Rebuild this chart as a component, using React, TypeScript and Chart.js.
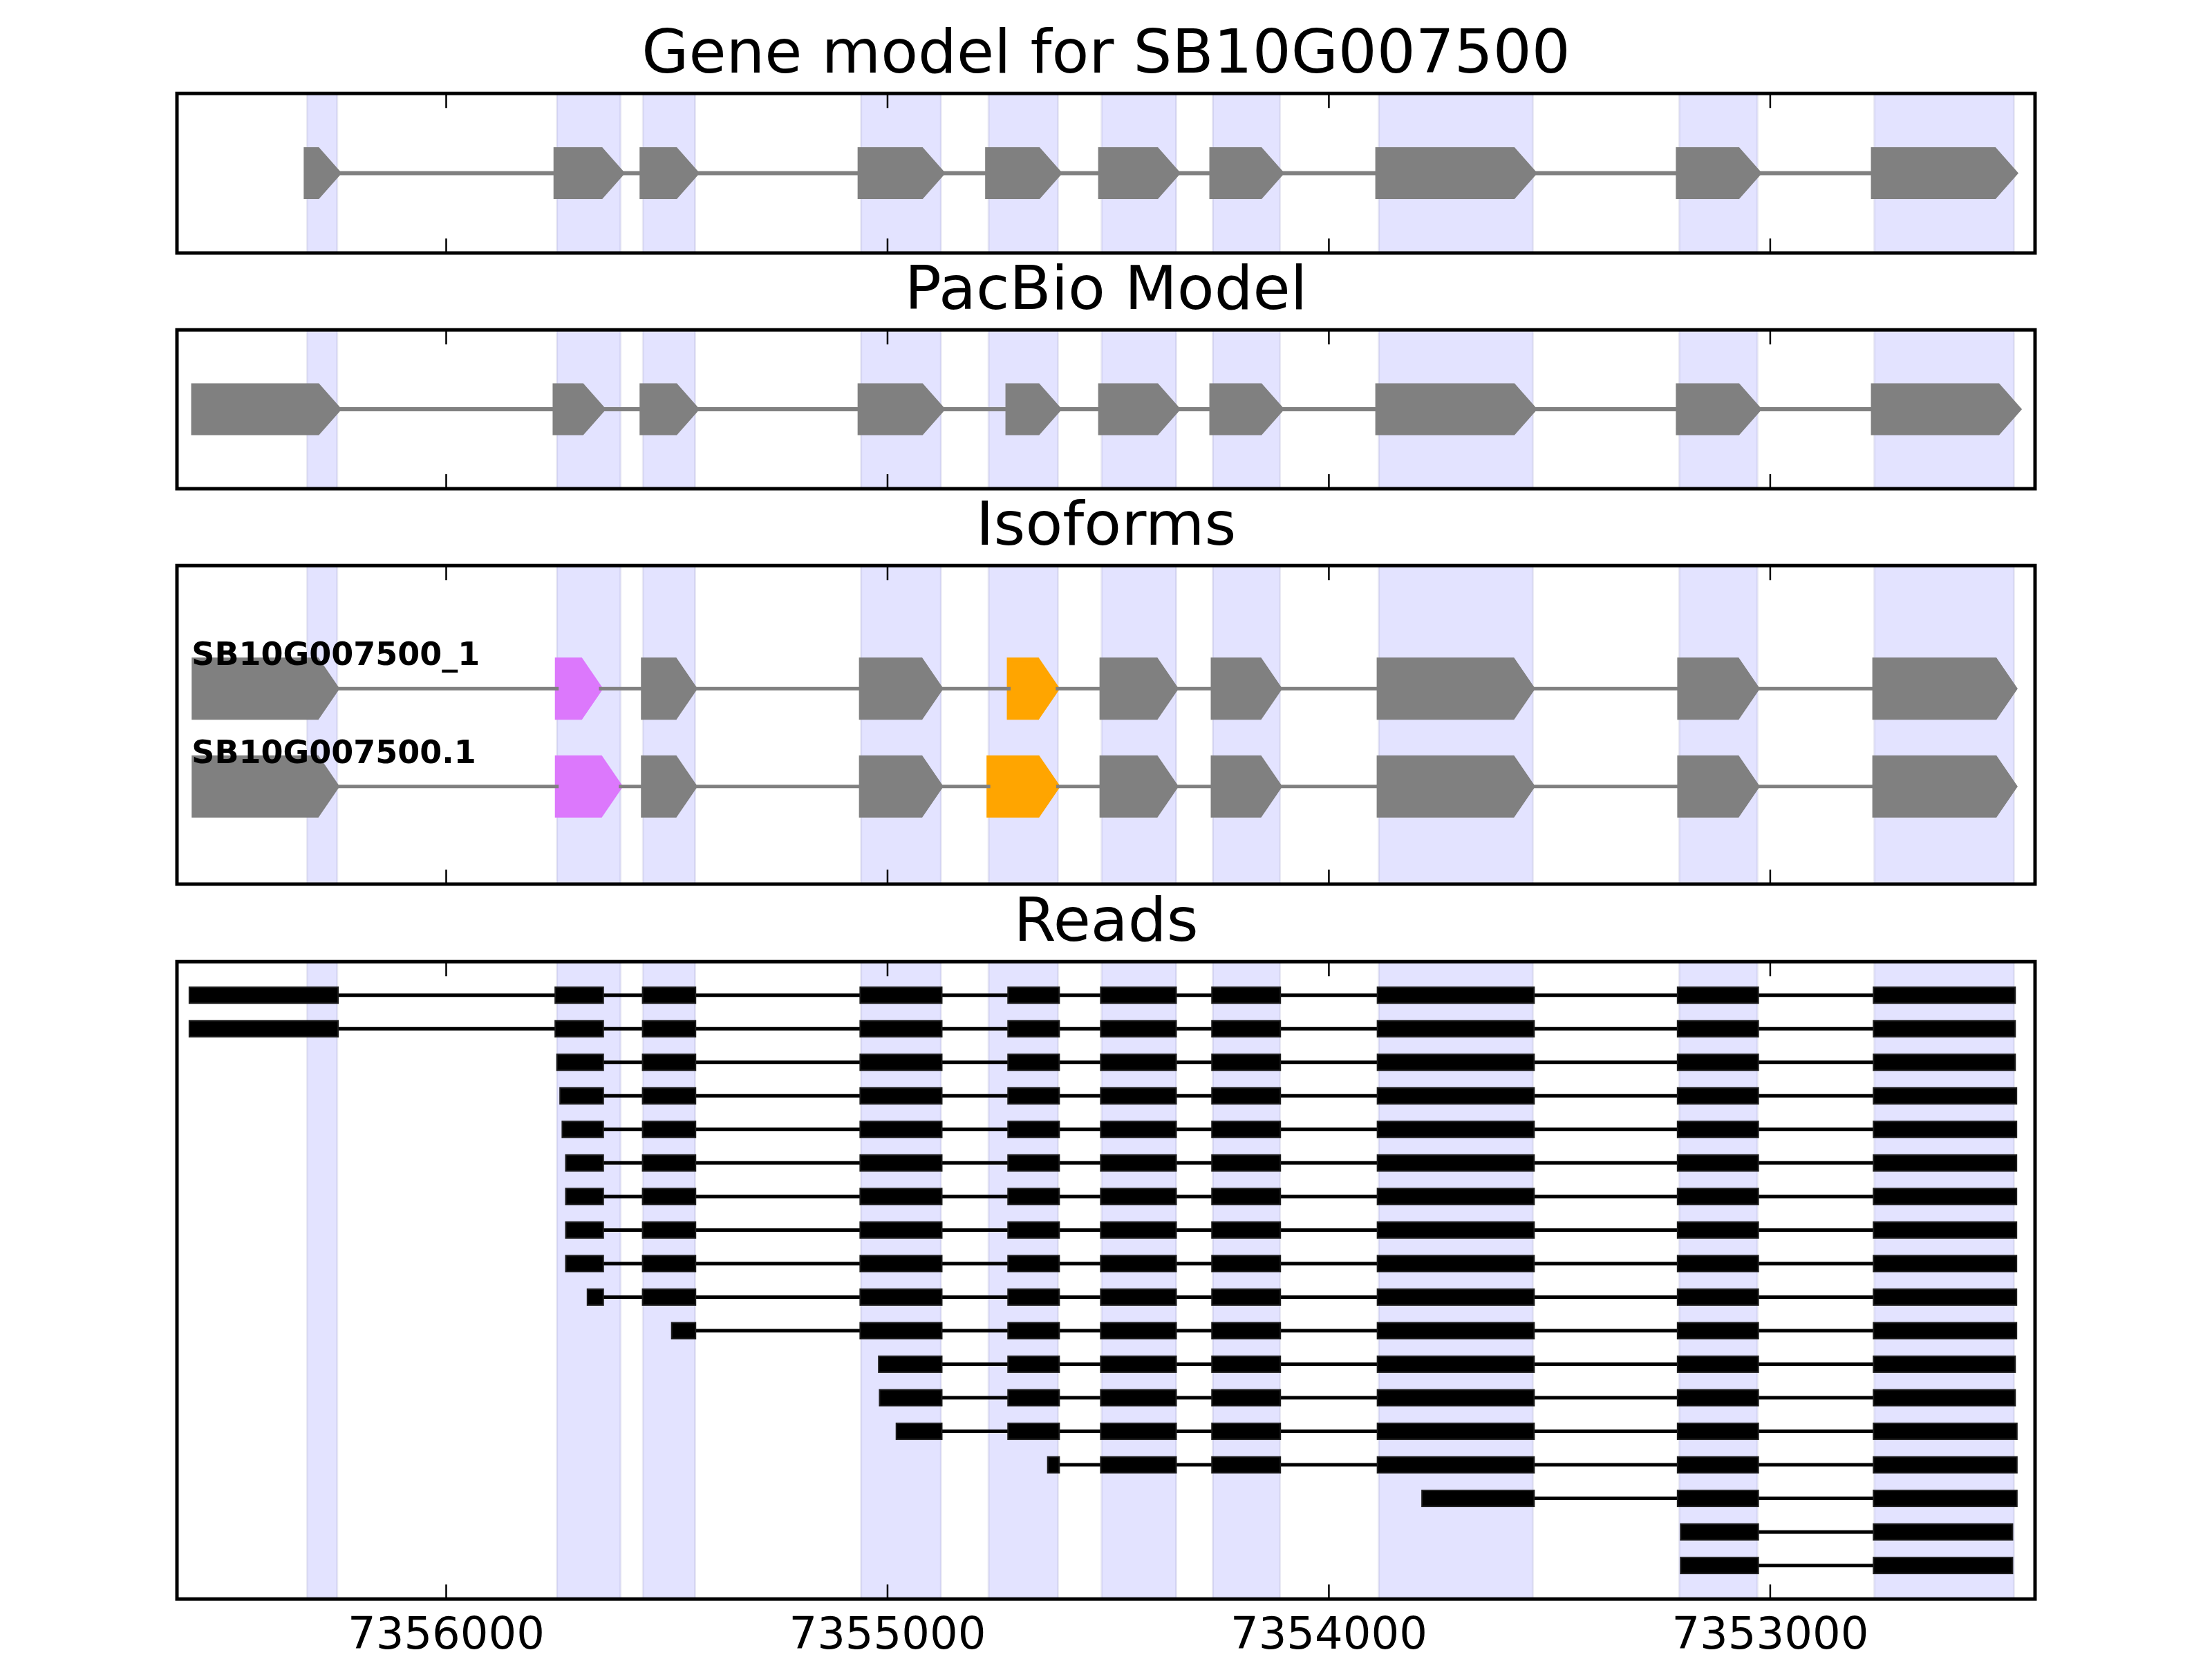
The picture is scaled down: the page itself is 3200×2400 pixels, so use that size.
import React, { useEffect, useRef } from 'react';
import { Chart, registerables } from 'chart.js';

Chart.register(...registerables);

// ---------------- data ----------------
const X_MIN = 7352400;
const X_MAX = 7356610;
const X_TICKS = [7356000, 7355000, 7354000, 7353000];

const PANEL_TITLES = ['Gene model for SB10G007500', 'PacBio Model', 'Isoforms', 'Reads'];

// exons as [left (higher coordinate), right (lower coordinate)]
const GENE_EXONS: number[][] = [
  [7356315, 7356247],
  [7355749, 7355605],
  [7355554, 7355436],
  [7355060, 7354879],
  [7354771, 7354614],
  [7354515, 7354346],
  [7354263, 7354111],
  [7353887, 7353538],
  [7353206, 7353029],
  [7352764, 7352448],
];

const PACBIO_EXONS: number[][] = [
  [7356570, 7356247],
  [7355751, 7355648],
  [7355554, 7355436],
  [7355060, 7354879],
  [7354725, 7354615],
  [7354515, 7354346],
  [7354263, 7354111],
  [7353887, 7353538],
  [7353206, 7353029],
  [7352764, 7352440],
];

const ISOFORM_NAMES = ['SB10G007500_1', 'SB10G007500.1'];

const ISOFORM_1_EXONS: number[][] = [
  [7356572, 7356247],
  [7355749, 7355650],
  [7355554, 7355436],
  [7355060, 7354879],
  [7354725, 7354615],
  [7354515, 7354346],
  [7354263, 7354111],
  [7353887, 7353538],
  [7353206, 7353029],
  [7352764, 7352445],
];

const ISOFORM_2_EXONS: number[][] = [
  [7356572, 7356247],
  [7355749, 7355605],
  [7355554, 7355436],
  [7355060, 7354879],
  [7354771, 7354614],
  [7354515, 7354346],
  [7354263, 7354111],
  [7353887, 7353538],
  [7353206, 7353029],
  [7352764, 7352445],
];

const ISOFORM_EXONS = [ISOFORM_1_EXONS, ISOFORM_2_EXONS];

const READS: number[][][] = [
  [[7356582, 7356245], [7355753, 7355644], [7355555, 7355435], [7355062, 7354877], [7354727, 7354611], [7354517, 7354346], [7354265, 7354110], [7353890, 7353535], [7353210, 7353027], [7352766, 7352445]],
  [[7356582, 7356245], [7355753, 7355644], [7355555, 7355435], [7355062, 7354877], [7354727, 7354611], [7354517, 7354346], [7354265, 7354110], [7353890, 7353535], [7353210, 7353027], [7352766, 7352445]],
  [[7355749, 7355644], [7355555, 7355435], [7355062, 7354877], [7354727, 7354611], [7354517, 7354346], [7354265, 7354110], [7353890, 7353535], [7353210, 7353027], [7352766, 7352445]],
  [[7355742, 7355644], [7355555, 7355435], [7355062, 7354877], [7354727, 7354611], [7354517, 7354346], [7354265, 7354110], [7353890, 7353535], [7353210, 7353027], [7352766, 7352442]],
  [[7355737, 7355644], [7355555, 7355435], [7355062, 7354877], [7354727, 7354611], [7354517, 7354346], [7354265, 7354110], [7353890, 7353535], [7353210, 7353027], [7352766, 7352442]],
  [[7355729, 7355644], [7355555, 7355435], [7355062, 7354877], [7354727, 7354611], [7354517, 7354346], [7354265, 7354110], [7353890, 7353535], [7353210, 7353027], [7352766, 7352442]],
  [[7355729, 7355644], [7355555, 7355435], [7355062, 7354877], [7354727, 7354611], [7354517, 7354346], [7354265, 7354110], [7353890, 7353535], [7353210, 7353027], [7352766, 7352442]],
  [[7355729, 7355644], [7355555, 7355435], [7355062, 7354877], [7354727, 7354611], [7354517, 7354346], [7354265, 7354110], [7353890, 7353535], [7353210, 7353027], [7352766, 7352442]],
  [[7355729, 7355644], [7355555, 7355435], [7355062, 7354877], [7354727, 7354611], [7354517, 7354346], [7354265, 7354110], [7353890, 7353535], [7353210, 7353027], [7352766, 7352442]],
  [[7355680, 7355644], [7355555, 7355435], [7355062, 7354877], [7354727, 7354611], [7354517, 7354346], [7354265, 7354110], [7353890, 7353535], [7353210, 7353027], [7352766, 7352442]],
  [[7355489, 7355435], [7355062, 7354877], [7354727, 7354611], [7354517, 7354346], [7354265, 7354110], [7353890, 7353535], [7353210, 7353027], [7352766, 7352442]],
  [[7355020, 7354877], [7354727, 7354611], [7354517, 7354346], [7354265, 7354110], [7353890, 7353535], [7353210, 7353027], [7352766, 7352445]],
  [[7355018, 7354877], [7354727, 7354611], [7354517, 7354346], [7354265, 7354110], [7353890, 7353535], [7353210, 7353027], [7352766, 7352445]],
  [[7354980, 7354877], [7354727, 7354611], [7354517, 7354346], [7354265, 7354110], [7353890, 7353535], [7353210, 7353027], [7352766, 7352441]],
  [[7354637, 7354611], [7354517, 7354346], [7354265, 7354110], [7353890, 7353535], [7353210, 7353027], [7352766, 7352441]],
  [[7353789, 7353535], [7353210, 7353027], [7352766, 7352441]],
  [[7353203, 7353027], [7352766, 7352451]],
  [[7353203, 7353027], [7352766, 7352451]],
];

// ---------------- style / layout ----------------
const FONT = 'DejaVu Sans';
const GRAY = '#808080';
const MAGENTA = '#DC78FC';
const ORANGE = '#FFA500';
const ISO_HIGHLIGHT: Record<number, string> = { 1: MAGENTA, 4: ORANGE };
const BAND_FILL = 'rgba(0,0,255,0.11)';
const BAND_EDGE = 'rgba(60,60,140,0.10)';
const HEAD_BP = 45;

const AXES_LEFT = 256;
const AXES_RIGHT = 2944;
const PAD = 12;
const TITLE_SIZE = 88;
const TITLE_PAD_TOP = 4.6;
const TITLE_BOX = TITLE_SIZE * 1.2 + TITLE_PAD_TOP; // 110.2
const TICK_SIZE = 64;
const TICK_PAD = 17;
const X_AXIS_H = TICK_SIZE * 1.2 + 2 * TICK_PAD;

const PANELS = [
  { kind: 'gene', top: 135, bottom: 366, yMin: 0, yMax: 1, reverse: false, labels: false },
  { kind: 'pacbio', top: 477, bottom: 707, yMin: 0, yMax: 1, reverse: false, labels: false },
  { kind: 'iso', top: 818, bottom: 1279, yMin: -1.26, yMax: 2.0, reverse: true, labels: false },
  { kind: 'reads', top: 1391, bottom: 2313, yMin: -1, yMax: 18, reverse: true, labels: true },
];

const GENE_STYLE = { half: 32.5, lw: 10, intron: 6, cap: 'butt' };
const ISO_STYLE = { half: 42, lw: 6, intron: 5, cap: 'square' };

function drawArrow(ctx: any, px: (v: number) => number, yc: number, ex: number[], half: number, lw: number, color: string) {
  const xs = px(ex[0]);
  const xt = px(ex[1]);
  const headPx = Math.abs(px(ex[1] + HEAD_BP) - xt);
  const xsh = Math.max(xs, xt - headPx);
  ctx.beginPath();
  ctx.moveTo(xs, yc - half);
  ctx.lineTo(xsh, yc - half);
  ctx.lineTo(xt, yc);
  ctx.lineTo(xsh, yc + half);
  ctx.lineTo(xs, yc + half);
  ctx.closePath();
  ctx.fillStyle = color;
  ctx.fill();
  ctx.lineWidth = lw;
  ctx.lineJoin = 'miter';
  ctx.miterLimit = 10;
  ctx.strokeStyle = color;
  ctx.stroke();
}

function drawModel(ctx: any, px: (v: number) => number, yc: number, exons: number[][], style: any, colorOf: (i: number) => string) {
  exons.forEach((ex, i) => drawArrow(ctx, px, yc, ex, style.half, style.lw, colorOf(i)));
  ctx.strokeStyle = GRAY;
  ctx.lineWidth = style.intron;
  ctx.lineCap = style.cap;
  ctx.beginPath();
  for (let i = 0; i < exons.length - 1; i++) {
    ctx.moveTo(px(exons[i][1]), yc);
    ctx.lineTo(px(exons[i + 1][0]), yc);
  }
  ctx.stroke();
  ctx.lineCap = 'butt';
}

const trackPlugin = {
  id: 'track',
  beforeDatasetsDraw(chart: any, _args: any, opts: any) {
    const panel = PANELS[opts.idx];
    const { ctx, chartArea: a } = chart;
    const xs = chart.scales.x;
    const ys = chart.scales.y;
    const px = (v: number) => xs.getPixelForValue(v);
    ctx.save();
    ctx.beginPath();
    ctx.rect(a.left, a.top, a.right - a.left, a.bottom - a.top);
    ctx.clip();

    // exon bands
    for (const ex of GENE_EXONS) {
      const x0 = px(ex[0]);
      const x1 = px(ex[1]);
      ctx.fillStyle = BAND_FILL;
      ctx.fillRect(x0, a.top, x1 - x0, a.bottom - a.top);
      ctx.strokeStyle = BAND_EDGE;
      ctx.lineWidth = 3;
      ctx.beginPath();
      ctx.moveTo(x0, a.top);
      ctx.lineTo(x0, a.bottom);
      ctx.moveTo(x1, a.top);
      ctx.lineTo(x1, a.bottom);
      ctx.stroke();
    }

    if (panel.kind === 'gene' || panel.kind === 'pacbio') {
      const exons = panel.kind === 'gene' ? GENE_EXONS : PACBIO_EXONS;
      drawModel(ctx, px, ys.getPixelForValue(0.5), exons, GENE_STYLE, () => GRAY);
    } else if (panel.kind === 'iso') {
      ISOFORM_EXONS.forEach((exons, r) => {
        drawModel(ctx, px, ys.getPixelForValue(r), exons, ISO_STYLE, (i) => ISO_HIGHLIGHT[i] || GRAY);
      });
      ctx.fillStyle = '#000';
      ctx.font = `bold 46px "${FONT}"`;
      ctx.textAlign = 'left';
      ctx.textBaseline = 'alphabetic';
      ISOFORM_EXONS.forEach((exons, r) => {
        ctx.fillText(ISOFORM_NAMES[r], px(exons[0][0]) - 3, ys.getPixelForValue(r - 0.24));
      });
    } else {
      READS.forEach((blocks, r) => {
        const yc = ys.getPixelForValue(r);
        if (blocks.length > 1) {
          ctx.strokeStyle = '#000';
          ctx.lineWidth = 5;
          ctx.beginPath();
          ctx.moveTo(px(blocks[0][1]), yc);
          ctx.lineTo(px(blocks[blocks.length - 1][0]), yc);
          ctx.stroke();
        }
        for (const b of blocks) {
          const x0 = px(b[0]);
          const x1 = px(b[1]);
          ctx.fillStyle = '#000';
          ctx.fillRect(x0, yc - 11.5, x1 - x0, 23);
          ctx.strokeStyle = '#1c1c1c';
          ctx.lineWidth = 2;
          ctx.strokeRect(x0, yc - 11.5, x1 - x0, 23);
        }
      });
    }
    ctx.restore();
  },
  afterDraw(chart: any) {
    const { ctx, chartArea: a } = chart;
    const xs = chart.scales.x;
    ctx.save();
    ctx.strokeStyle = '#000';
    ctx.lineWidth = 2.5;
    ctx.beginPath();
    for (const v of X_TICKS) {
      const x = xs.getPixelForValue(v);
      ctx.moveTo(x, a.top);
      ctx.lineTo(x, a.top + 21);
      ctx.moveTo(x, a.bottom);
      ctx.lineTo(x, a.bottom - 21);
    }
    ctx.stroke();
    ctx.lineWidth = 5;
    ctx.lineJoin = 'miter';
    ctx.strokeRect(a.left, a.top, a.right - a.left, a.bottom - a.top);
    ctx.restore();
  },
};

function Panel({ idx }: { idx: number }) {
  const ref = useRef<HTMLCanvasElement>(null);
  const p = PANELS[idx];
  const width = AXES_RIGHT - AXES_LEFT + 2 * PAD;
  const height = Math.round(TITLE_BOX + (p.bottom - p.top) + (p.labels ? X_AXIS_H : PAD));
  const left = AXES_LEFT - PAD;
  const top = p.top - TITLE_BOX;

  useEffect(() => {
    if (!ref.current) return;
    const chart = new Chart(ref.current, {
      type: 'scatter',
      data: { datasets: [] },
      options: {
        animation: false,
        responsive: false,
        maintainAspectRatio: false,
        devicePixelRatio: 1,
        events: [],
        layout: { padding: { left: PAD, right: PAD, top: 0, bottom: p.labels ? 0 : PAD } },
        plugins: {
          legend: { display: false },
          tooltip: { enabled: false },
          title: {
            display: true,
            text: PANEL_TITLES[idx],
            color: '#000',
            font: { family: FONT, size: TITLE_SIZE, weight: 'normal', lineHeight: 1.2 },
            padding: { top: TITLE_PAD_TOP, bottom: 0 },
          },
          track: { idx },
        } as any,
        scales: {
          x: {
            type: 'linear',
            min: X_MIN,
            max: X_MAX,
            reverse: true,
            display: p.labels,
            grid: { display: false, drawTicks: false },
            border: { display: false },
            ticks: {
              autoSkip: false,
              maxRotation: 0,
              padding: TICK_PAD,
              color: '#000',
              font: { family: FONT, size: TICK_SIZE, lineHeight: 1.2 },
              callback: (v: any) => String(v),
            },
            afterBuildTicks: (s: any) => {
              s.ticks = X_TICKS.map((v) => ({ value: v }));
            },
          },
          y: {
            type: 'linear',
            min: p.yMin,
            max: p.yMax,
            reverse: p.reverse,
            display: false,
          },
        },
      } as any,
      plugins: [trackPlugin],
    });
    return () => chart.destroy();
  }, [idx]);

  return (
    <canvas
      ref={ref}
      width={width}
      height={height}
      style={{ position: 'absolute', left, top, width, height }}
    />
  );
}

export default function App() {
  return (
    <div style={{ position: 'absolute', left: 0, top: 0, width: 3200, height: 2400, background: '#fff', overflow: 'hidden' }}>
      {PANELS.map((_, i) => (
        <Panel key={i} idx={i} />
      ))}
    </div>
  );
}
